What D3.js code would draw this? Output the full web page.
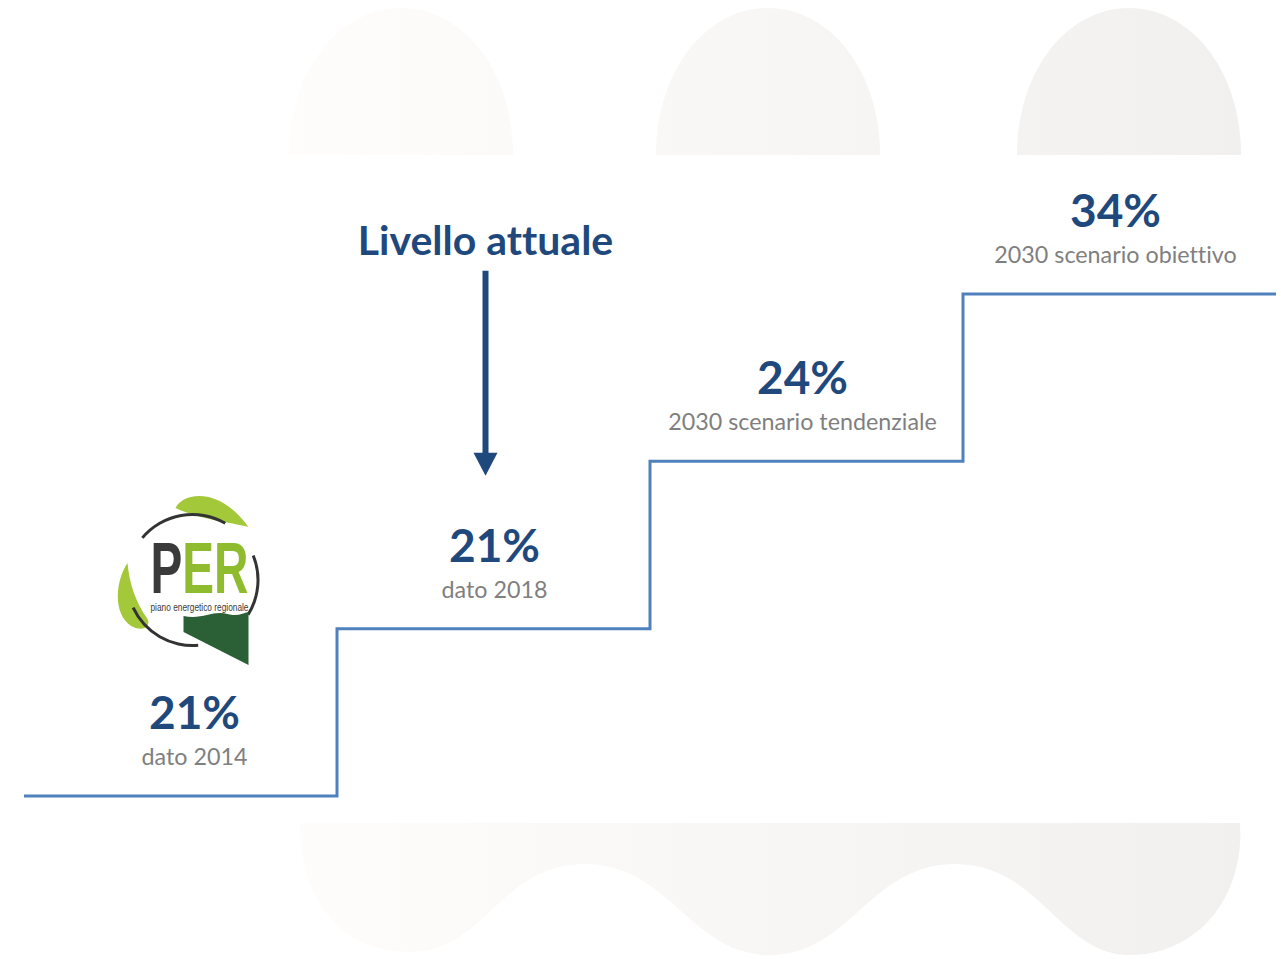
<!DOCTYPE html>
<html>
<head>
<meta charset="utf-8">
<script src="https://cdn.jsdelivr.net/npm/d3@7"></script>
<style>
  body { margin: 0; background: #fff; }
  svg { display: block; }
  text { font-variant-ligatures: none; }
</style>
</head>
<body>
<script>
'use strict';

// step labels, values and level on the stair (0 = lowest)
const stepLabels = ["dato 2014", "dato 2018", "2030 scenario tendenziale", "2030 scenario obiettivo"];
const stepValues = [21, 21, 24, 34];
const stepLevels = [0, 1, 2, 3];
const currentStep = "dato 2018";
const currentText = "Livello attuale";

(function() {
  const width = 1281, height = 959;
  const blue = "#1f497d", lineBlue = "#4f81bd", grey = "#7f7f7f";

  const svg = d3.select("body").append("svg")
    .attr("width", width)
    .attr("height", height);

  // scales: one band per step, y by level
  const xScale = d3.scaleBand()
    .domain(stepLabels)
    .range([24, 1276]);
  const yScale = d3.scaleLinear()
    .domain([0, 3])
    .range([796, 294]);

  drawBackground();

  // the stair line
  let pts = stepLabels.map((s, i) => [xScale(s), yScale(stepLevels[i])]);
  pts.push([xScale.range()[1], yScale(stepLevels[stepLevels.length - 1])]);
  svg.append("path")
    .attr("d", d3.line().curve(d3.curveStepAfter)(pts))
    .attr("fill", "none")
    .attr("stroke", lineBlue)
    .attr("stroke-width", 3);

  // value + label above each step
  const cx = s => xScale(s) + xScale.bandwidth() / 2;
  const shift = [14, 1, -4, -4];
  let g = svg.selectAll(".step")
    .data(stepLabels)
    .enter()
    .append("g")
    .attr("transform", (d, i) => "translate(" + (cx(d) + shift[i]) + "," + yScale(stepLevels[i]) + ")");
  g.append("text")
    .attr("y", -67)
    .attr("text-anchor", "middle")
    .style("font-family", "Lato")
    .style("font-weight", "bold")
    .style("font-size", "46px")
    .attr("fill", blue)
    .text((d, i) => stepValues[i] + "%");
  g.append("text")
    .attr("y", -31)
    .attr("text-anchor", "middle")
    .style("font-family", "Lato")
    .style("font-size", "23.3px")
    .attr("fill", grey)
    .text(d => d);

  // "Livello attuale" arrow
  const ci = stepLabels.indexOf(currentStep);
  const ax = cx(currentStep) - 8;
  const yTip = yScale(stepLevels[ci]) - 153;
  svg.append("text")
    .attr("x", ax)
    .attr("y", yTip - 221)
    .attr("text-anchor", "middle")
    .style("font-family", "Lato")
    .style("font-weight", "bold")
    .style("font-size", "41px")
    .attr("fill", blue)
    .text(currentText);
  svg.append("line")
    .attr("x1", ax).attr("x2", ax)
    .attr("y1", yTip - 205).attr("y2", yTip - 20)
    .attr("stroke", blue)
    .attr("stroke-width", 6);
  svg.append("path")
    .attr("d", "M" + (ax - 12) + "," + (yTip - 23) + "L" + (ax + 12) + "," + (yTip - 23) + "L" + ax + "," + yTip + "Z")
    .attr("fill", blue);

  // logo above the first step
  drawLogo(svg.append("g")
    .attr("transform", "translate(" + (cx(stepLabels[0]) - 63) + "," + (yScale(0) - 304) + ")"));

  // faint decorative shapes behind the chart
  function drawBackground() {
    let grad = svg.append("defs").append("linearGradient")
      .attr("id", "bgGrad")
      .attr("gradientUnits", "userSpaceOnUse")
      .attr("x1", 285).attr("x2", 1240).attr("y1", 0).attr("y2", 0);
    grad.append("stop").attr("offset", 0).attr("stop-color", "#fefdfb");
    grad.append("stop").attr("offset", 1).attr("stop-color", "#f1f0ee");

    let bg = svg.append("g").attr("fill", "url(#bgGrad)");
    // arches on top
    [401, 768, 1129].forEach(function(c) {
      let w = 112;
      bg.append("path")
        .attr("d", "M" + (c - w) + ",155 C" + (c - w) + ",70 " + (c - w * 0.55) + ",8 " + c + ",8 C" +
          (c + w * 0.55) + ",8 " + (c + w) + ",70 " + (c + w) + ",155 Z");
    });
    // wavy band at the bottom
    bg.append("path")
      .attr("d", "M300,823 L1240,823 C1245,900 1195,955 1130,955 C1060,955 1040,864 955,864 " +
        "C870,864 850,955 770,955 C690,955 670,864 585,864 C500,864 485,952 410,952 C340,952 300,900 300,823 Z");
  }

  function drawLogo(lg) {
    // leaves
    lg.append("path")
      .attr("d", "M58,16 C64,2 100,-8 131,35 C112,30 84,28 58,16 Z")
      .attr("fill", "#a3c83a");
    lg.append("path")
      .attr("d", "M10,71 C-4,92 -4,128 18,136 C28,139 33,133 30,127 C18,110 12,92 10,71 Z")
      .attr("fill", "#a3c83a");
    // dark ring pieces
    const arc = d3.arc().innerRadius(64).outerRadius(67);
    const rad = Math.PI / 180;
    [[-50, 30], [68, 122], [175, 245]].forEach(function(a) {
      lg.append("path")
        .attr("transform", "translate(75,88)")
        .attr("d", arc({startAngle: a[0] * rad, endAngle: a[1] * rad}))
        .attr("fill", "#333333");
    });
    // letters
    let per = lg.append("text")
      .attr("x", 33).attr("y", 101)
      .attr("textLength", 98).attr("lengthAdjust", "spacingAndGlyphs")
      .style("font-family", "Liberation Sans")
      .style("font-weight", "bold")
      .style("font-size", "72px");
    per.append("tspan").attr("fill", "#3a3a3a").text("P");
    per.append("tspan").attr("fill", "#8fbc2f").text("ER");
    lg.append("text")
      .attr("x", 33).attr("y", 119)
      .attr("textLength", 98).attr("lengthAdjust", "spacingAndGlyphs")
      .style("font-family", "Liberation Sans")
      .style("font-size", "10px")
      .attr("fill", "#3a3a3a")
      .text("piano energetico regionale");
    // dark green field
    lg.append("path")
      .attr("d", "M66,124 C85,128 95,118 110,122 C120,125 126,121 131,120 L131,173 L66,140 Z")
      .attr("fill", "#2b5f35");
  }
})();
</script>
</body>
</html>
